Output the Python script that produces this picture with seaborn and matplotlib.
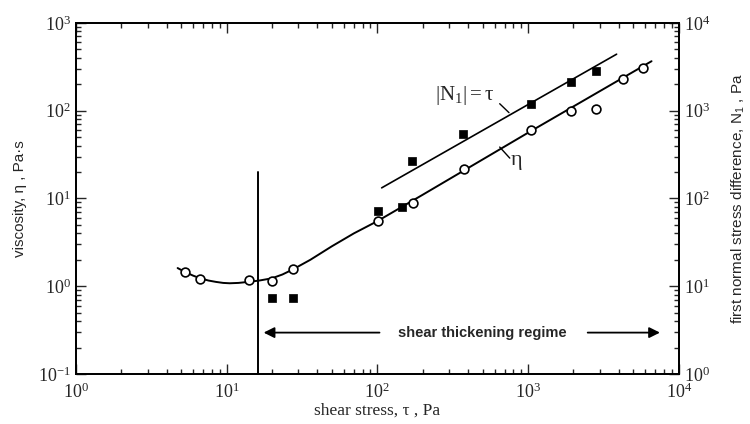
import numpy as np
import pandas as pd
import seaborn as sns
import matplotlib.pyplot as plt

# viscosity data (open circles), left axis
tau_eta = [5.27, 6.7, 14.1, 20.1, 27.5, 100.5, 173, 375, 1052, 1918, 2805, 4257, 5780]
eta = [1.46, 1.2, 1.17, 1.15, 1.59, 5.5, 8.95, 21.6, 59.6, 98, 105, 232, 307]

# first normal stress difference (filled squares), right axis
tau_n1 = [20, 27.5, 100.5, 145, 171, 371, 1052, 1935, 2830]
n1 = [7.3, 7.3, 72.6, 80.6, 270, 536, 1180, 2130, 2810]

# curve through the viscosity points
curve_tau = [4.74, 5.27, 6.0, 6.7, 7.6, 8.5, 9.5, 10.5, 12.0, 14.0, 16.5, 20.0, 23.5, 27.5,
             36.0, 50.0, 70.0, 100.0, 200.0, 1000.0, 6600.0]
curve_eta = [1.61, 1.46, 1.32, 1.23, 1.16, 1.12, 1.09, 1.08, 1.09, 1.12, 1.16, 1.23, 1.36, 1.55,
             2.0, 2.85, 4.0, 5.5, 11.0, 56.0, 366.0]

# |N1| = tau line (right axis units)
line_tau = [107, 3870]
line_n1 = [132, 4400]

regime_start = 16.1

sns.set_theme(style='ticks')
plt.rcParams['font.family'] = ['Liberation Serif', 'DejaVu Serif']
plt.rcParams['mathtext.default'] = 'regular'

fig = plt.figure(figsize=(7.5, 4.24), dpi=100)
ax = fig.add_axes([0.101, 0.118, 0.804, 0.828])
ax2 = ax.twinx()

sns.lineplot(x=curve_tau, y=curve_eta, ax=ax, color='black', lw=1.4, sort=False)
sns.scatterplot(x=tau_eta, y=eta, ax=ax, marker='o', s=40, facecolor='white',
                edgecolor='black', linewidth=1.2, zorder=3)

sns.lineplot(x=line_tau, y=line_n1, ax=ax2, color='black', lw=1.2)
sns.scatterplot(x=tau_n1, y=n1, ax=ax2, marker='s', s=40, color='black',
                edgecolor='black', zorder=3)

for a in (ax, ax2):
    a.set_xscale('log')
    a.set_yscale('log')
ax.set_xlim(1, 1e4)
ax.set_ylim(0.1, 1e3)
ax2.set_ylim(1, 1e4)

# vertical boundary of the regime
ax.plot([regime_start, regime_start], [0.1, 20.2], color='black', lw=1.4)

# double arrow with label
ax.annotate('', xy=(16.9, 0.296), xytext=(108, 0.296),
            arrowprops=dict(arrowstyle='-|>', color='black', lw=1.3, mutation_scale=16))
ax.annotate('', xy=(7830, 0.296), xytext=(2385, 0.296),
            arrowprops=dict(arrowstyle='-|>', color='black', lw=1.3, mutation_scale=16))
ax.text(500, 0.296, 'shear thickening regime', ha='center', va='center',
        fontsize=10.5, fontweight='bold', family=['Liberation Sans', 'DejaVu Sans'])

# curve labels with leaders
ax.text(377, 150, r'$|N_1| = \tau$', ha='center', va='center', fontsize=15,
        math_fontfamily='stix')
ax.plot([649, 748], [120, 94.9], color='black', lw=1)
ax.text(840, 26, r'$\eta$', ha='center', va='center', fontsize=16, math_fontfamily='stix')
ax.plot([649, 757], [38.5, 28.8], color='black', lw=1)

ax.set_xlabel('shear stress, \u03c4 , Pa', fontsize=12.5, labelpad=1)
ax.set_ylabel('viscosity, \u03b7 , Pa\u00b7s', fontsize=11,
              family=['Liberation Sans', 'DejaVu Sans'], labelpad=8)
ax2.set_ylabel('first normal stress difference, N$_1$ , Pa', fontsize=11,
               family=['Liberation Sans', 'DejaVu Sans'], labelpad=14)

ax.tick_params(which='both', direction='in', top=True, labelsize=13, width=1)
ax.tick_params(axis='x', pad=6)
ax.tick_params(which='major', length=7)
ax.tick_params(which='minor', length=3.5)
ax.tick_params(axis='y', which='both', right=False)
ax2.tick_params(which='both', direction='in', labelsize=13, width=1)
ax2.tick_params(which='major', length=7)
ax2.tick_params(which='minor', length=3.5)
for a in (ax, ax2):
    for sp in a.spines.values():
        sp.set_visible(True)
        sp.set_linewidth(1.3)
        sp.set_color('black')

fig.savefig('out.png', dpi=100)
